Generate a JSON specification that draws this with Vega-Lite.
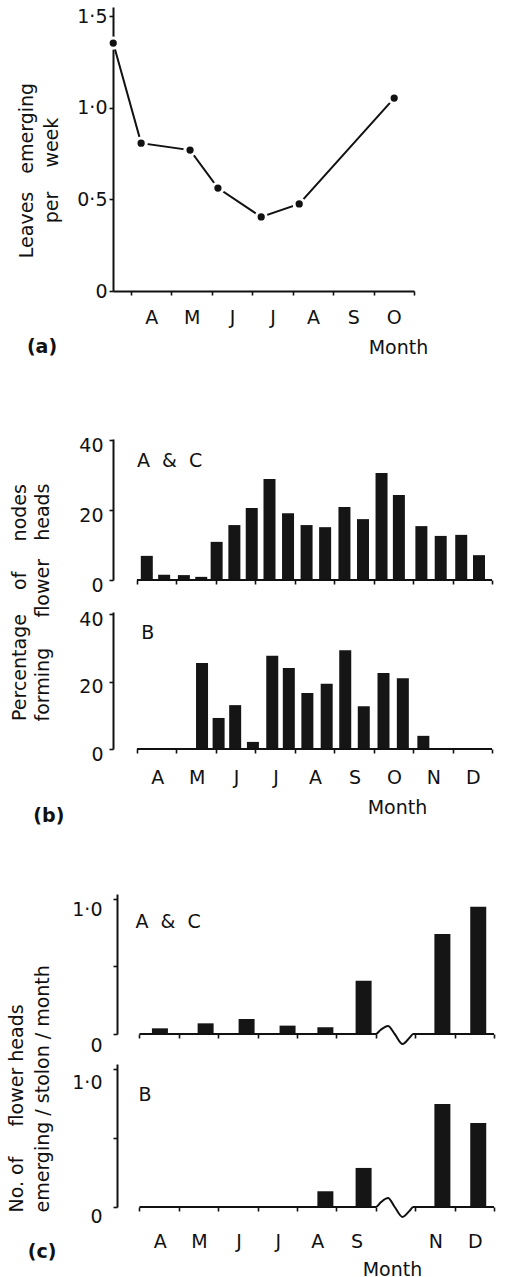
{
  "$schema": "https://vega.github.io/schema/vega-lite/v6.json",
  "padding": {"left": 7, "top": 7, "right": 0, "bottom": 0},
  "background": "white",
  "bounds": "flush",
  "spacing": 0,
  "config": {
    "view": {"stroke": null},
    "font": "DejaVu Sans",
    "axis": {
      "grid": false,
      "domainColor": "#111",
      "domainWidth": 2,
      "tickColor": "#111",
      "tickWidth": 1.6,
      "tickSize": 4,
      "labelColor": "#111",
      "labelFont": "DejaVu Sans",
      "labelFontSize": 19,
      "labelFlush": false,
      "labelOverlap": false,
      "labelBound": false,
      "titleColor": "#111",
      "titleFont": "DejaVu Sans",
      "titleFontSize": 19,
      "titleFontWeight": "normal"
    },
    "text": {"font": "DejaVu Sans", "fontSize": 19, "color": "#111"}
  },
  "datasets": {
    "leaves": [
      {"m": 2.56, "v": 1.353},
      {"m": 3.25, "v": 0.807},
      {"m": 4.46, "v": 0.769},
      {"m": 5.15, "v": 0.562},
      {"m": 6.22, "v": 0.404},
      {"m": 7.16, "v": 0.475},
      {"m": 9.51, "v": 1.053}
    ],
    "acpct": [
      {"m": 3.25, "p": 6.9}, {"m": 3.69, "p": 1.5}, {"m": 4.19, "p": 1.4}, {"m": 4.63, "p": 0.9},
      {"m": 5.02, "p": 10.9}, {"m": 5.47, "p": 15.7}, {"m": 5.91, "p": 20.6}, {"m": 6.36, "p": 28.9},
      {"m": 6.83, "p": 19.1}, {"m": 7.3, "p": 15.7}, {"m": 7.77, "p": 15.1}, {"m": 8.26, "p": 20.9},
      {"m": 8.73, "p": 17.4}, {"m": 9.2, "p": 30.6}, {"m": 9.64, "p": 24.3}, {"m": 10.21, "p": 15.4},
      {"m": 10.7, "p": 12.6}, {"m": 11.22, "p": 12.9}, {"m": 11.67, "p": 7.1}
    ],
    "bpct": [
      {"m": 4.65, "p": 25.5}, {"m": 5.07, "p": 9.2}, {"m": 5.49, "p": 13.0}, {"m": 5.94, "p": 2.1},
      {"m": 6.43, "p": 27.6}, {"m": 6.85, "p": 24.0}, {"m": 7.32, "p": 16.6}, {"m": 7.81, "p": 19.3},
      {"m": 8.28, "p": 29.3}, {"m": 8.75, "p": 12.7}, {"m": 9.25, "p": 22.5}, {"m": 9.74, "p": 21.0},
      {"m": 10.26, "p": 3.9}
    ],
    "acheads": [
      {"m": 3.52, "h": 0.042}, {"m": 4.68, "h": 0.079}, {"m": 5.72, "h": 0.111}, {"m": 6.76, "h": 0.062},
      {"m": 7.72, "h": 0.05}, {"m": 8.69, "h": 0.395}, {"m": 10.69, "h": 0.741}, {"m": 11.6, "h": 0.943}
    ],
    "bheads": [
      {"m": 7.72, "h": 0.114}, {"m": 8.69, "h": 0.283}, {"m": 10.69, "h": 0.746}, {"m": 11.6, "h": 0.609}
    ],
    "brk1": [
      {"m": 3, "y": 0}, {"m": 9.0, "y": 0}, {"m": 9.12, "y": 0.03}, {"m": 9.31, "y": 0.06},
      {"m": 9.48, "y": 0}, {"m": 9.68, "y": -0.074}, {"m": 9.85, "y": -0.03}, {"m": 9.95, "y": 0}, {"m": 12, "y": 0}
    ],
    "brk2": [
      {"m": 3, "y": 0}, {"m": 9.0, "y": 0}, {"m": 9.12, "y": 0.032}, {"m": 9.31, "y": 0.065},
      {"m": 9.48, "y": 0}, {"m": 9.68, "y": -0.072}, {"m": 9.85, "y": -0.03}, {"m": 9.95, "y": 0}, {"m": 12, "y": 0}
    ]
  },
  "vconcat": [
    {
      "width": 301,
      "height": 284,
      "layer": [
        {
          "data": {"name": "leaves"},
          "mark": {"type": "line", "color": "#111", "strokeWidth": 2},
          "encoding": {
            "x": {
              "field": "m", "type": "quantitative",
              "scale": {"domain": [2.554, 10], "nice": false, "zero": false},
              "axis": {
                "values": [3, 4, 5, 6, 7, 8, 9, 10],
                "labelExpr": "['','','','A','M','J','J','A','S','O','','',''][datum.value]",
                "labelAlign": "center",
                "labelOffset": 20.2,
                "labelPadding": 13,
                "title": "Month",
                "titleX": 285,
                "titleY": 56,
                "titleAlign": "center",
                "titleBaseline": "middle"
              }
            },
            "y": {
              "field": "v", "type": "quantitative",
              "scale": {"domain": [0, 1.55], "nice": false},
              "axis": {
                "values": [0, 0.5, 1, 1.5],
                "labelExpr": "datum.value == 0 ? '0' : replace(format(datum.value, '.1f'), '.', '·')",
                "labelPadding": 2,
                "title": ["Leaves\u00a0\u00a0\u00a0emerging", "per\u00a0\u00a0\u00a0\u00a0week"],
                "titleAngle": 270,
                "titleX": -96,
                "titleY": 163,
                "titleAlign": "center",
                "titleBaseline": "top",
                "titleLineHeight": 25
              }
            }
          }
        },
        {
          "data": {"name": "leaves"},
          "mark": {"type": "point", "filled": true, "fill": "#111", "stroke": "white", "strokeWidth": 3, "size": 105, "opacity": 1, "strokeOpacity": 1},
          "encoding": {
            "x": {"field": "m", "type": "quantitative"},
            "y": {"field": "v", "type": "quantitative"}
          }
        },
        {
          "data": {"values": [{}]},
          "mark": {"type": "text", "fontWeight": "bold", "align": "center", "baseline": "middle"},
          "encoding": {
            "x": {"datum": 0.797},
            "y": {"datum": -0.3055},
            "text": {"value": "(a)"}
          }
        }
      ]
    },
    {"width": 10, "height": 148, "data": {"values": []}, "mark": "point"},
    {
      "width": 384,
      "height": 141,
      "layer": [
        {
          "data": {"name": "acpct"},
          "mark": {"type": "bar", "size": 12, "color": "#151515"},
          "encoding": {
            "x": {
              "field": "m", "type": "quantitative",
              "scale": {"domain": [2.52, 12], "nice": false, "zero": false},
              "axis": {"values": [3, 4, 5, 6, 7, 8, 9, 10, 11, 12], "labels": false, "domain": false, "title": null}
            },
            "y": {
              "field": "p", "type": "quantitative",
              "scale": {"domain": [0, 40.3], "nice": false},
              "axis": {
                "values": [0, 20, 40],
                "labelOffset": 5,
                "labelPadding": 6,
                "title": ["Percentage\u00a0\u00a0\u00a0\u00a0of\u00a0\u00a0\u00a0\u00a0\u00a0nodes", "forming\u00a0\u00a0\u00a0\u00a0\u00a0flower\u00a0\u00a0\u00a0heads"],
                "titleAngle": 270,
                "titleX": -103,
                "titleY": 163,
                "titleAlign": "center",
                "titleBaseline": "top",
                "titleLineHeight": 23
              }
            }
          }
        },
        {
          "data": {"values": [{}]},
          "mark": {"type": "rule", "color": "#111", "strokeWidth": 2},
          "encoding": {"x": {"datum": 3}, "x2": {"datum": 12}, "y": {"datum": 0}}
        },
        {
          "data": {"values": [{}]},
          "mark": {"type": "text", "align": "left", "baseline": "middle"},
          "encoding": {"x": {"datum": 3.0}, "y": {"datum": 33.9}, "text": {"value": "A\u00a0\u00a0&\u00a0\u00a0C"}}
        }
      ]
    },
    {"width": 10, "height": 32, "data": {"values": []}, "mark": "point"},
    {
      "width": 384,
      "height": 137,
      "layer": [
        {
          "data": {"name": "bpct"},
          "mark": {"type": "bar", "size": 12, "color": "#151515"},
          "encoding": {
            "x": {
              "field": "m", "type": "quantitative",
              "scale": {"domain": [2.52, 12], "nice": false, "zero": false},
              "axis": {
                "values": [3, 4, 5, 6, 7, 8, 9, 10, 11, 12],
                "domain": false,
                "labelExpr": "['','','','A','M','J','J','A','S','O','N','D',''][datum.value]",
                "labelAlign": "center",
                "labelOffset": 20.25,
                "labelPadding": 15,
                "title": "Month",
                "titleX": 284,
                "titleY": 58,
                "titleAlign": "center",
                "titleBaseline": "middle"
              }
            },
            "y": {
              "field": "p", "type": "quantitative",
              "scale": {"domain": [0, 40.6], "nice": false},
              "axis": {"values": [0, 20, 40], "labelOffset": 5, "labelPadding": 6, "title": null}
            }
          }
        },
        {
          "data": {"values": [{}]},
          "mark": {"type": "rule", "color": "#111", "strokeWidth": 2},
          "encoding": {"x": {"datum": 3}, "x2": {"datum": 12}, "y": {"datum": 0}}
        },
        {
          "data": {"values": [{}]},
          "mark": {"type": "text", "align": "left", "baseline": "middle"},
          "encoding": {"x": {"datum": 3.11}, "y": {"datum": 34.4}, "text": {"value": "B"}}
        },
        {
          "data": {"values": [{}]},
          "mark": {"type": "text", "fontWeight": "bold", "align": "center", "baseline": "middle"},
          "encoding": {"x": {"datum": 0.767}, "y": {"datum": -19.85}, "text": {"value": "(b)"}}
        }
      ]
    },
    {"width": 10, "height": 145, "data": {"values": []}, "mark": "point"},
    {
      "width": 386,
      "height": 140,
      "layer": [
        {
          "data": {"name": "acheads"},
          "mark": {"type": "bar", "size": 16, "color": "#151515"},
          "encoding": {
            "x": {
              "field": "m", "type": "quantitative",
              "scale": {"domain": [2.456, 12], "nice": false, "zero": false},
              "axis": {"values": [3, 4, 5, 6, 7, 8, 9, 10, 11, 12], "labels": false, "domain": false, "title": null}
            },
            "y": {
              "field": "h", "type": "quantitative",
              "scale": {"domain": [0, 1.037], "nice": false},
              "axis": {
                "values": [0, 0.5, 1],
                "offset": -4,
                "labelExpr": "datum.value == 0 ? '0' : datum.value == 1 ? '1·0' : ''",
                "labelOffset": 11,
                "labelPadding": 11,
                "title": ["No.\u00a0of\u00a0\u00a0\u00a0\u00a0\u00a0flower\u00a0heads", "emerging / stolon / month"],
                "titleAngle": 270,
                "titleX": -110,
                "titleY": 318,
                "titleAlign": "left",
                "titleBaseline": "top",
                "titleLineHeight": 26
              }
            }
          }
        },
        {
          "data": {"name": "brk1"},
          "mark": {"type": "line", "color": "#111", "strokeWidth": 2, "interpolate": "monotone"},
          "encoding": {
            "x": {"field": "m", "type": "quantitative"},
            "y": {"field": "y", "type": "quantitative"}
          }
        },
        {
          "data": {"values": [{}]},
          "mark": {"type": "text", "align": "left", "baseline": "middle"},
          "encoding": {"x": {"datum": 2.9}, "y": {"datum": 0.83}, "text": {"value": "A\u00a0\u00a0&\u00a0\u00a0C"}}
        }
      ]
    },
    {"width": 10, "height": 30, "data": {"values": []}, "mark": "point"},
    {
      "width": 386,
      "height": 143,
      "layer": [
        {
          "data": {"name": "bheads"},
          "mark": {"type": "bar", "size": 16, "color": "#151515"},
          "encoding": {
            "x": {
              "field": "m", "type": "quantitative",
              "scale": {"domain": [2.456, 12], "nice": false, "zero": false},
              "axis": {
                "values": [3, 4, 5, 6, 7, 8, 9, 10, 11, 12],
                "domain": false,
                "labelExpr": "['','','','A','M','J','J','A','S','','N','D',''][datum.value]",
                "labelAlign": "center",
                "labelOffset": 20.2,
                "labelPadding": 21,
                "title": "Month",
                "titleX": 279,
                "titleY": 62,
                "titleAlign": "center",
                "titleBaseline": "middle"
              }
            },
            "y": {
              "field": "h", "type": "quantitative",
              "scale": {"domain": [0, 1.036], "nice": false},
              "axis": {
                "values": [0, 0.5, 1],
                "offset": -4,
                "labelExpr": "datum.value == 0 ? '0' : datum.value == 1 ? '1·0' : ''",
                "labelOffset": {"condition": {"test": "datum.value == 0", "value": 9}, "value": 14},
                "labelPadding": 11,
                "title": null
              }
            }
          }
        },
        {
          "data": {"name": "brk2"},
          "mark": {"type": "line", "color": "#111", "strokeWidth": 2, "interpolate": "monotone"},
          "encoding": {
            "x": {"field": "m", "type": "quantitative"},
            "y": {"field": "y", "type": "quantitative"}
          }
        },
        {
          "data": {"values": [{}]},
          "mark": {"type": "text", "align": "left", "baseline": "middle"},
          "encoding": {"x": {"datum": 2.975}, "y": {"datum": 0.81}, "text": {"value": "B"}}
        },
        {
          "data": {"values": [{}]},
          "mark": {"type": "text", "fontWeight": "bold", "align": "center", "baseline": "middle"},
          "encoding": {"x": {"datum": 0.527}, "y": {"datum": -0.326}, "text": {"value": "(c)"}}
        }
      ]
    }
  ]
}
